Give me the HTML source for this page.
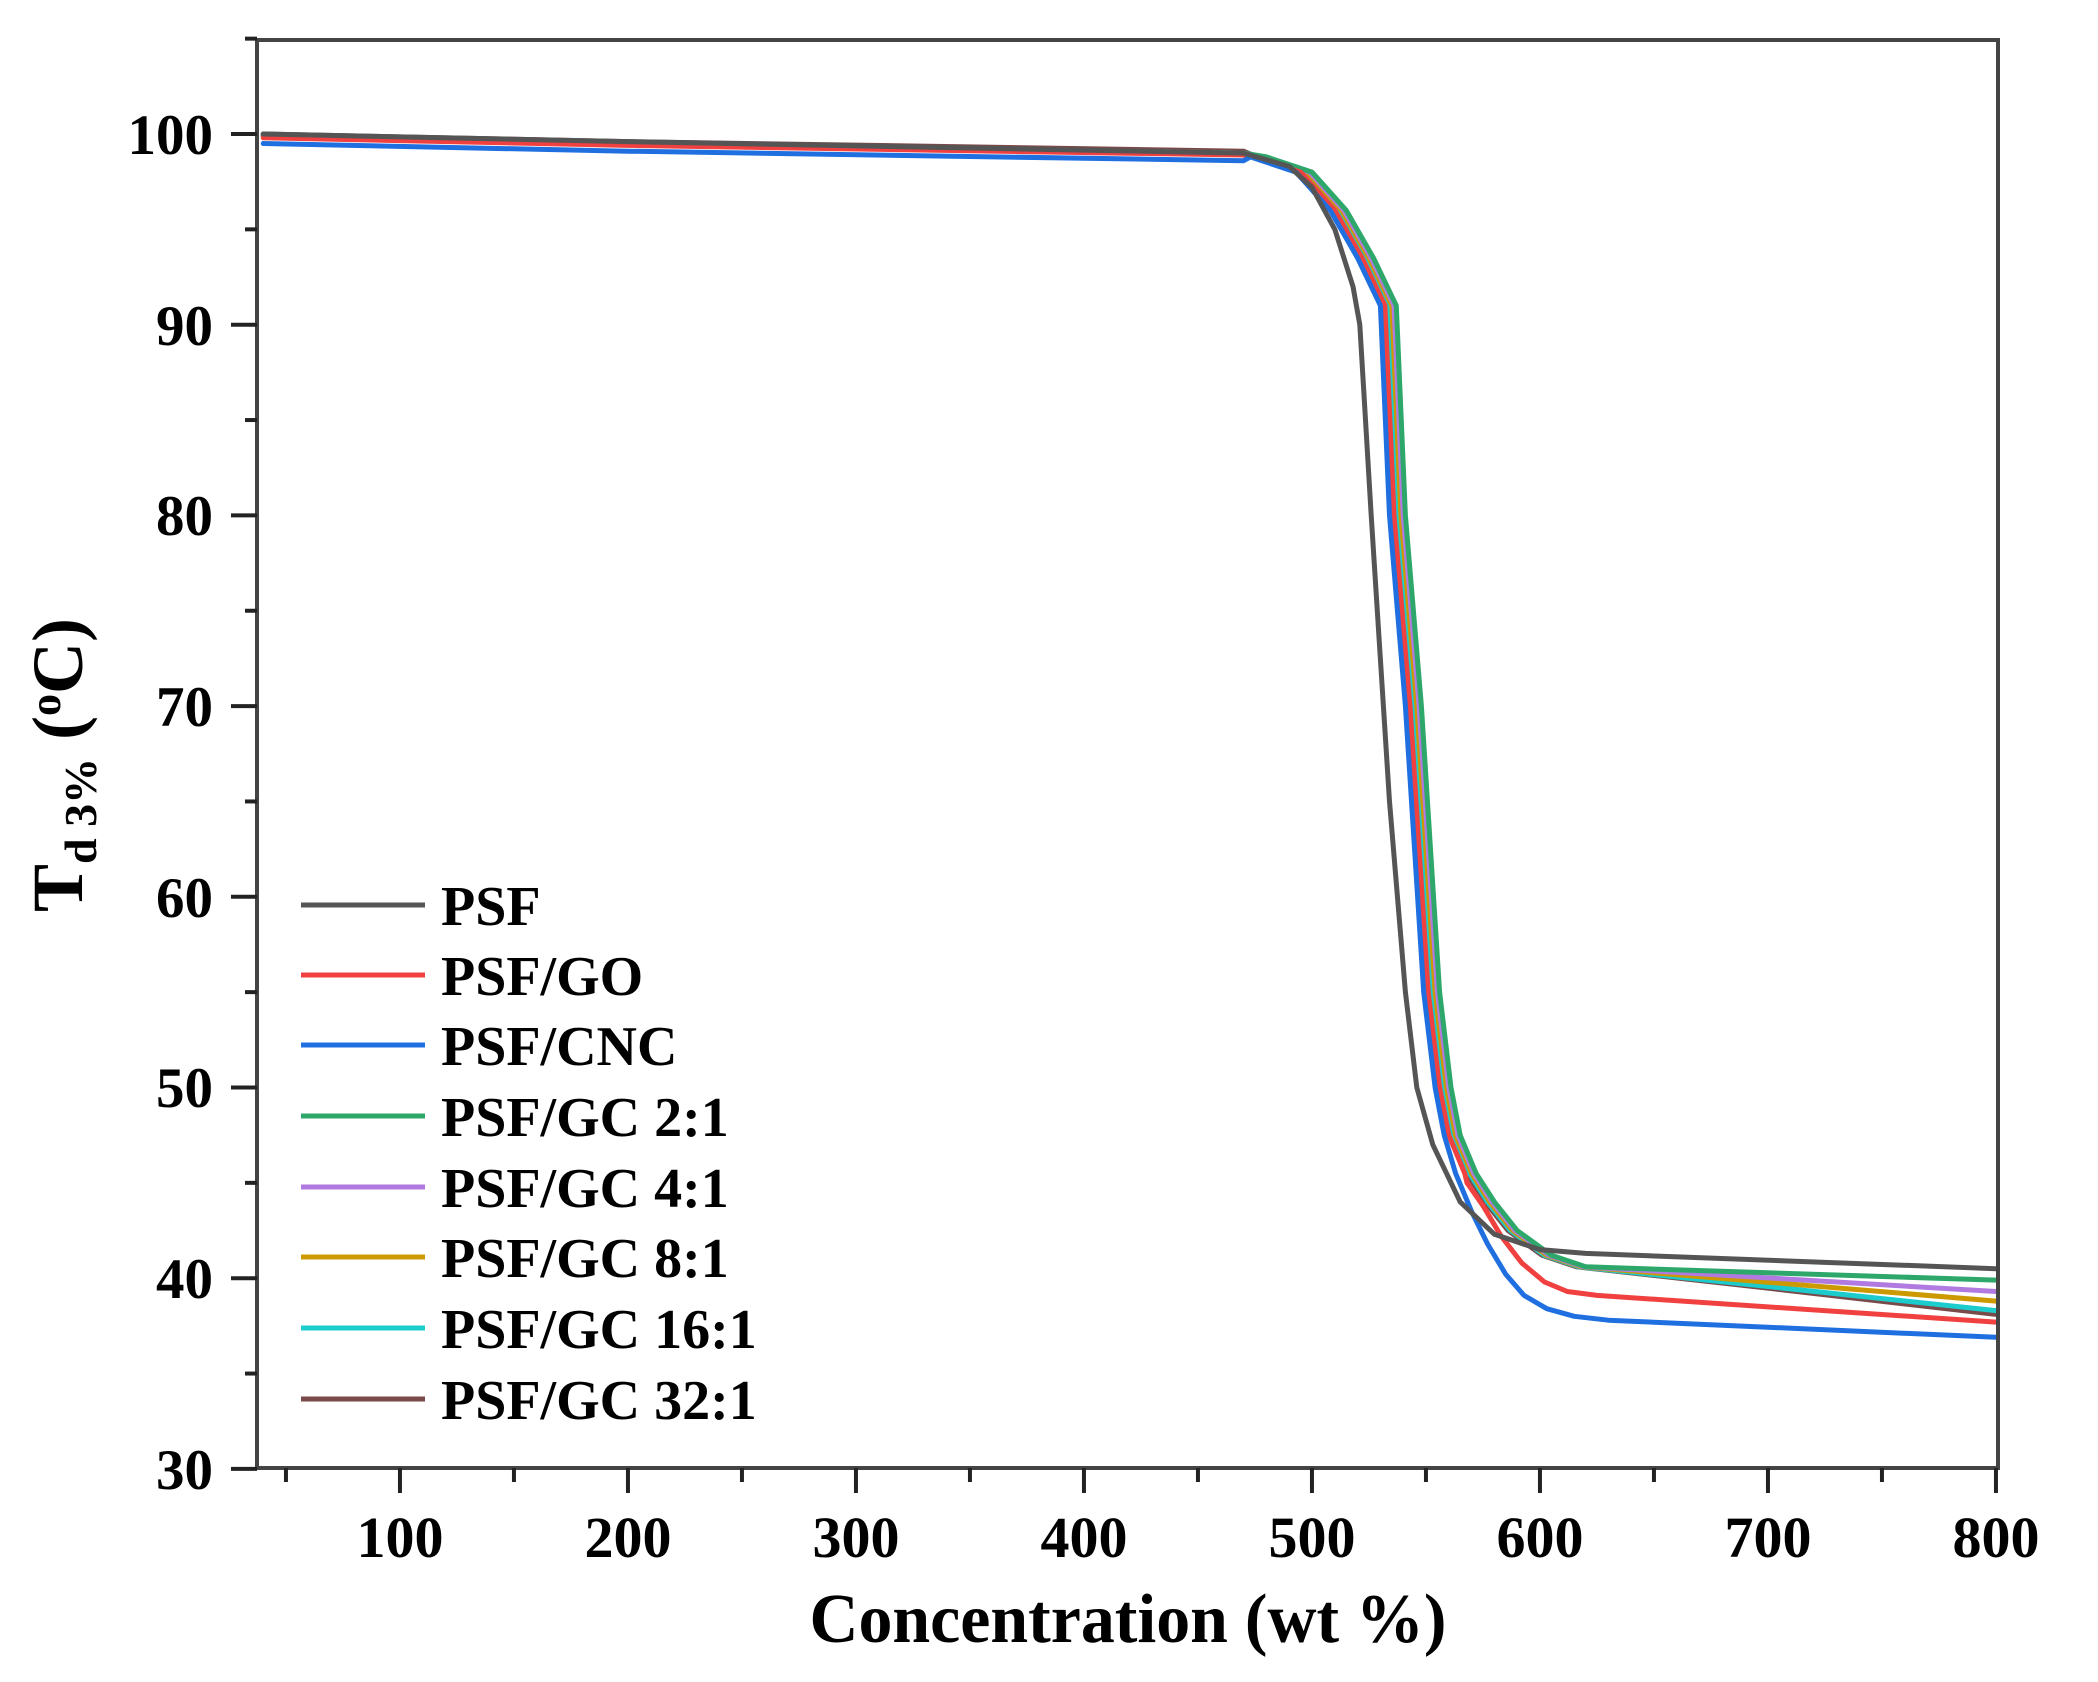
<!DOCTYPE html>
<html><head><meta charset="utf-8"><style>
html,body{margin:0;padding:0;background:#fff;}
svg{display:block;}
text{font-family:"Liberation Serif","Times New Roman",serif;font-weight:bold;fill:#000;}
</style></head><body>
<svg id="s" width="2098" height="1682" viewBox="0 0 2098 1682" xmlns="http://www.w3.org/2000/svg">
<g id="curves" fill="none" stroke-width="5" stroke-linejoin="round" stroke-linecap="round"></g>
<g stroke="#444" stroke-width="4" fill="none">
<rect x="257" y="40" width="1741" height="1428"/>
</g>
<g id="ticks" stroke="#222" stroke-width="4"></g>
<g font-size="57" text-anchor="end">
<text x="213" y="154">100</text>
<text x="213" y="345">90</text>
<text x="213" y="535">80</text>
<text x="213" y="726">70</text>
<text x="213" y="917">60</text>
<text x="213" y="1107">50</text>
<text x="213" y="1298">40</text>
<text x="213" y="1489">30</text>
</g>
<g font-size="58" text-anchor="middle">
<text x="400" y="1557">100</text>
<text x="628" y="1557">200</text>
<text x="856" y="1557">300</text>
<text x="1084" y="1557">400</text>
<text x="1312" y="1557">500</text>
<text x="1540" y="1557">600</text>
<text x="1768" y="1557">700</text>
<text x="1996" y="1557">800</text>
</g>
<text x="1128" y="1642" font-size="70" text-anchor="middle" textLength="637" lengthAdjust="spacingAndGlyphs">Concentration (wt %)</text>
<text transform="translate(82,765) rotate(-90)" font-size="72" text-anchor="middle">T<tspan font-size="46" dy="14">d 3%</tspan><tspan dy="-14"> (</tspan><tspan font-size="44" dy="-22">o</tspan><tspan dy="22">C)</tspan></text>
<g stroke-width="5">
<line x1="301" y1="905" x2="425" y2="905" stroke="#555"/>
<line x1="301" y1="975" x2="425" y2="975" stroke="#f04040"/>
<line x1="301" y1="1045" x2="425" y2="1045" stroke="#1f6fe0"/>
<line x1="301" y1="1116" x2="425" y2="1116" stroke="#2ea86a"/>
<line x1="301" y1="1187" x2="425" y2="1187" stroke="#b07ae0"/>
<line x1="301" y1="1257" x2="425" y2="1257" stroke="#cc9a00"/>
<line x1="301" y1="1328" x2="425" y2="1328" stroke="#1ccccc"/>
<line x1="301" y1="1399" x2="425" y2="1399" stroke="#7a4a4a"/>
</g>
<g font-size="56">
<text x="441" y="925">PSF</text>
<text x="441" y="995">PSF/GO</text>
<text x="441" y="1065">PSF/CNC</text>
<text x="441" y="1136">PSF/GC 2:1</text>
<text x="441" y="1207">PSF/GC 4:1</text>
<text x="441" y="1277">PSF/GC 8:1</text>
<text x="441" y="1348">PSF/GC 16:1</text>
<text x="441" y="1419">PSF/GC 32:1</text>
</g>
</svg>
<script>
var NS="http://www.w3.org/2000/svg";
function X(v){return 257+(v-37.3)*2.28;}
function Y(v){return 134+(100-v)*19.07;}
var tk=document.getElementById('ticks');
function ln(x1,y1,x2,y2){var l=document.createElementNS(NS,'line');l.setAttribute('x1',x1);l.setAttribute('y1',y1);l.setAttribute('x2',x2);l.setAttribute('y2',y2);tk.appendChild(l);}
for(var v=30;v<=105;v+=5){var y=Y(v);ln(v%10==0?231:245,y,257,y);}
for(var v=50;v<=800;v+=50){var x=X(v);ln(x,1468,x,v%100==0?1493:1482);}
var base=[[480,98.8],[500,98],[515,96],[527,93.5],[537,91],[541,80],[548,70],[556,55],[561,50],[565,47.5],[572,45.5],[580,44],[590,42.5],[605,41.2],[620,40.6]];
function gen(d,start,endv,tail){
 var p=[[40,start],[200,start-0.4],[470,start-0.9]];
 base.forEach(function(b){ if(!tail||b[0]<tail[0][0]-d) p.push([b[0]+d,b[1]]);});
 if(tail){tail.forEach(function(t){p.push(t);});}
 else{p.push([700,40.6-(40.6-endv)*0.45]);p.push([800,endv]);}
 return p;
}
var S=[
 ["#7a4a4a",gen(-4,100,38.1)],
 ["#1ccccc",gen(-3,99.9,38.3)],
 ["#cc9a00",gen(-2,99.9,38.8)],
 ["#b07ae0",gen(-1,99.9,39.3)],
 ["#2ea86a",gen(0,99.9,39.9)],
 ["#f04040",gen(-5,99.8,37.7,[[568,45],[575,43.8],[583,42.2],[592,40.8],[602,39.8],[612,39.3],[625,39.1],[800,37.7]])],
 ["#1f6fe0",gen(-7,99.5,36.9,[[563,45.5],[570,43.5],[577,41.8],[585,40.2],[593,39.1],[603,38.4],[615,38],[630,37.8],[800,36.9]])],
 ["#555555",[[40,100],[200,99.6],[470,99],[490,98.3],[500,97.2],[510,95],[518,92],[521,90],[526,80],[534,65],[541,55],[546,50],[553,47],[565,44],[580,42.3],[600,41.5],[620,41.3],[800,40.5]]]
];
var g=document.getElementById('curves');
S.forEach(function(s){
 var pl=document.createElementNS(NS,'polyline');
 pl.setAttribute('points',s[1].map(function(q){return X(q[0]).toFixed(1)+','+Y(q[1]).toFixed(1);}).join(' '));
 pl.setAttribute('stroke',s[0]);g.appendChild(pl);
});
</script>
</body></html>
